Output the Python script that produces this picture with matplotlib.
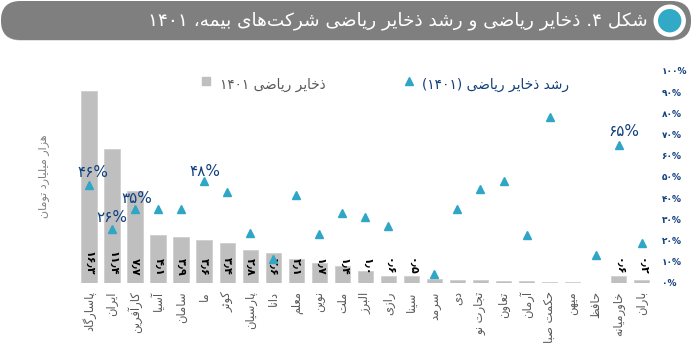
"""Persian reserves chart: grey bars for reserves, teal triangles for growth."""

import unicodedata

import matplotlib

matplotlib.use("Agg")
import matplotlib.pyplot as plt
from matplotlib.legend_handler import HandlerLine2D
from matplotlib.lines import Line2D
from matplotlib.patches import Circle, FancyBboxPatch

W, H = 698, 348
GREY = "#bfbfbf"
TEAL = "#2fa6c6"
NAVY = "#12407f"
PILL = "#7f7f7f"

COMPANIES = [
    "پاسارگاد", "ایران", "کارآفرین", "آسیا", "سامان", "ما", "کوثر", "پارسیان",
    "دانا", "معلم", "نوین", "ملت", "البرز", "رازی", "سینا", "سرمد", "دی",
    "تجارت نو", "تعاون", "آرمان", "حکمت صبا", "میهن", "حافظ", "خاورمیانه", "باران",
]
RESERVES = [
    16.05, 11.2, 7.7, 4.0, 3.85, 3.57, 3.37, 2.8, 2.54, 2.04, 1.65, 1.45, 0.97,
    0.59, 0.56, 0.36, 0.28, 0.22, 0.14, 0.13, 0.12, 0.08, 0.03, 0.56, 0.22,
]
# printed labels, only on the first 15 bars and two at the end
RESERVE_LABELS = [
    "۱۶٫۳", "۱۱٫۴", "۷٫۷", "۴٫۱", "۳٫۹", "۳٫۶", "۳٫۴", "۲٫۸", "۲٫۶", "۲٫۱",
    "۱٫۷", "۱٫۴", "۱٫۰", "۰٫۶", "۰٫۵", "", "", "", "", "", "", "", "", "۰٫۶", "۰٫۲",
]
GROWTH = [
    46.4, 25.5, 35, 35, 34.7, 48, 42.8, 23.7, 11.5, 41.3, 23, 32.9, 31.3, 26.7,
    float("nan"), 4.2, 34.7, 44.5, 48, 22.6, 78.4, float("nan"), 13, 65, 18.9,
]
GROWTH_CALLOUTS = {0: "۴۶%", 1: "۲۶%", 2: "۳۵%", 5: "۴۸%", 23: "۶۵%"}
CALLOUT_OFFSETS = {0: (4, 12), 1: (0, 11), 2: (2, 10), 5: (1, 10), 23: (5, 14)}
PCT_TICKS = list(range(0, 101, 10))
PCT_LABELS = ["۰%", "۱۰%", "۲۰%", "۳۰%", "۴۰%", "۵۰%", "۶۰%", "۷۰%", "۸۰%", "۹۰%", "۱۰۰%"]

TITLE = "شکل ۴. ذخایر ریاضی و رشد ذخایر ریاضی شرکت‌های بیمه، ۱۴۰۱"
YLABEL = "هزار میلیارد تومان"
LEGEND_BARS = "ذخایر ریاضی ۱۴۰۱"
LEGEND_GROWTH = "رشد ذخایر ریاضی (۱۴۰۱)"


# matplotlib does no Arabic shaping, so pick presentation forms by hand
FORMS = {}
for code in list(range(0xFB50, 0xFC00)) + list(range(0xFE70, 0xFEFD)):
    parts = unicodedata.decomposition(chr(code)).split()
    if len(parts) == 2 and parts[0] in ("<isolated>", "<final>", "<initial>", "<medial>"):
        FORMS.setdefault(chr(int(parts[1], 16)), {})[parts[0][1:-1]] = chr(code)


def shape(text):
    text = unicodedata.normalize("NFC", text)
    out = []
    for i, ch in enumerate(text):
        forms = FORMS.get(ch)
        if not forms:
            out.append(ch)
            continue
        prev = FORMS.get(text[i - 1], {}) if i > 0 else {}
        nxt = FORMS.get(text[i + 1], {}) if i + 1 < len(text) else {}
        joins_prev = "final" in forms and ("initial" in prev or "medial" in prev)
        joins_next = "initial" in forms and "final" in nxt
        if joins_prev and joins_next and "medial" in forms:
            out.append(forms["medial"])
        elif joins_prev:
            out.append(forms["final"])
        elif joins_next:
            out.append(forms["initial"])
        else:
            out.append(forms.get("isolated", ch))
    # visual order: flip everything, then put digit runs back left to right
    flipped = "".join(out).replace("\u200c", "")[::-1]
    flipped = flipped.translate(str.maketrans("()", ")("))
    result, run = [], []
    for ch in flipped:
        if ch.isdigit():
            run.append(ch)
        else:
            result.extend(run[::-1])
            run = []
            result.append(ch)
    result.extend(run[::-1])
    return "".join(result)


def raise_key(handle, orig):
    # keys sit a little above the legend text in the original
    handle.update_from(orig)
    handle.set_ydata(handle.get_ydata() + 2.5)


plt.rcParams["font.family"] = "DejaVu Sans"

fig = plt.figure(figsize=(W / 100, H / 100), dpi=100)

# plot area: x index 0 at px 89, index 24 at px 641.7; 0% at y=283, 100% at y=71
left, right, top, bottom = 77.5, 653.2, 71, 283
ax = fig.add_axes([left / W, 1 - bottom / H, (right - left) / W, (bottom - top) / H])
ax2 = ax.twinx()

xs = list(range(len(COMPANIES)))
ax.bar(xs, RESERVES, width=0.665, color=GREY, edgecolor="#cfcfcf", linewidth=0.6)
ax.set_xlim(-0.5, 24.5)
ax.set_ylim(0, 17.73)
ax.set_yticks([])
ax.set_xticks(xs, [shape(c) for c in COMPANIES], rotation=90, fontsize=8.3, color="#595959")
ax.tick_params(axis="x", length=0, pad=6)

for x, label in zip(xs, RESERVE_LABELS):
    if label:
        ax.annotate(
            label, (x, 0), xytext=(0, 5.5), textcoords="offset points",
            rotation=-90, ha="center", va="bottom",
            fontsize=8, fontweight="bold", color="black",
        )

ax2.plot(xs, GROWTH, ls="none", marker="^", ms=5.5, color=TEAL, mec=TEAL, zorder=5)
ax2.set_ylim(0, 100)
ax2.set_yticks(PCT_TICKS, PCT_LABELS, fontsize=6.5, fontweight="bold", color=NAVY)
ax2.tick_params(axis="y", length=0, pad=6)

for i, label in GROWTH_CALLOUTS.items():
    ax2.annotate(
        label, (xs[i], GROWTH[i]), xytext=CALLOUT_OFFSETS[i], textcoords="offset pixels",
        ha="center", va="center", fontsize=11, color=NAVY,
    )

for a in (ax, ax2):
    a.patch.set_visible(False)
    for spine in a.spines.values():
        spine.set_visible(False)

fig.text(44 / W, 1 - 176 / H, shape(YLABEL), rotation=90, ha="center", va="center",
         fontsize=8, color="#7f7f7f")

bar_key = Line2D([], [], ls="none", marker="s", ms=5.5, color=GREY)
tri_key = Line2D([], [], ls="none", marker="^", ms=5.5, color=TEAL)
leg1 = fig.legend([bar_key], [shape(LEGEND_BARS)], loc="center left",
                  bbox_to_anchor=(200 / W, 1 - 85 / H), frameon=False, fontsize=9.8,
                  labelcolor="#595959", handlelength=0.9, handletextpad=0.55,
                  borderpad=0, borderaxespad=0,
                  handler_map={Line2D: HandlerLine2D(update_func=raise_key)})
leg2 = fig.legend([tri_key], [shape(LEGEND_GROWTH)], loc="center left",
                  bbox_to_anchor=(403 / W, 1 - 85 / H), frameon=False, fontsize=9.9,
                  labelcolor=NAVY, handlelength=0.9, handletextpad=0.45,
                  borderpad=0, borderaxespad=0,
                  handler_map={Line2D: HandlerLine2D(update_func=raise_key)})

# header pill and its badge, in pixel coordinates
chrome = fig.add_axes([0, 0, 1, 1], zorder=-1)
chrome.set_xlim(0, W)
chrome.set_ylim(H, 0)
chrome.axis("off")
chrome.add_patch(FancyBboxPatch((1, 1.5), 690, 39, boxstyle="round,pad=0,rounding_size=19.5",
                                fc="#c8c8c8", ec="none"))
chrome.add_patch(FancyBboxPatch((1, 1), 690, 39, boxstyle="round,pad=0,rounding_size=19.5",
                                fc=PILL, ec="none"))
chrome.add_patch(Circle((669.7, 20.7), 16.2, fc="white", ec="none"))
chrome.add_patch(Circle((669.7, 20.7), 11.7, fc="#31a9c7", ec="none"))

fig.text(648 / W, 1 - 21 / H, shape(TITLE), ha="right", va="center", fontsize=13.3, color="white")

fig.savefig("out.png", dpi=100, facecolor="white")
